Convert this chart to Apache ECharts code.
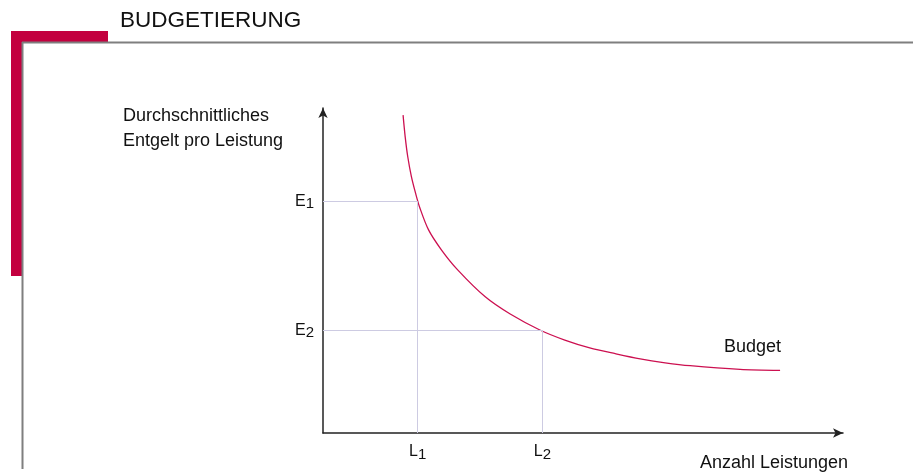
<!DOCTYPE html>
<html>
<head>
<meta charset="utf-8">
<title>Budgetierung</title>
<script src="https://cdn.jsdelivr.net/npm/echarts@6/dist/echarts.min.js"></script>
<style>
  html, body { margin: 0; padding: 0; background: #fff; }
  #chart { width: 913px; height: 473px; }
</style>
</head>
<body>
<div id="chart"></div>
<script>
// curve "Budget": Anzahl Leistungen (x) vs. durchschnittliches Entgelt (y), arbitrary units 0..100
const budgetX = [15.4, 15.8, 16.3, 17.0, 17.8, 18.6, 20.3, 22.8, 25.9, 31.2, 36.0, 41.7, 46.5, 51.3, 56.2, 61.0, 65.8, 70.6, 80.2, 87.9];
const budgetY = [97.8, 91.2, 85.0, 78.9, 73.8, 69.4, 62.5, 56.3, 50.2, 41.9, 36.6, 31.7, 28.6, 26.2, 24.4, 22.8, 21.6, 20.7, 19.6, 19.3];

// marked levels
const xTickValues = [18.2, 42.2];
const xTickNames = ['L', 'L'];
const xTickSubs = ['1', '2'];
const yTickValues = [71.2, 31.6];
const yTickNames = ['E', 'E'];
const ySubs = ['1', '2'];

const seriesName = 'Budget';
const titleText = 'BUDGETIERUNG';
const yAxisTitle = 'Durchschnittliches\nEntgelt pro Leistung';
const xAxisTitle = 'Anzahl Leistungen';

const FONT = "'Liberation Sans', Arial, sans-serif";
const RED = '#c3003f';
const GUIDE = '#cdcbe2';

const chart = echarts.init(document.getElementById('chart'));

const subRich = {
  b: { fontSize: 16, fontFamily: FONT, color: '#111', lineHeight: 20 },
  s: { fontSize: 15, fontFamily: FONT, color: '#111', lineHeight: 15, verticalAlign: 'bottom' }
};

const guideLines = [];
xTickValues.forEach((xv, i) => {
  const yv = yTickValues[i];
  guideLines.push([{ coord: [0, yv] }, { coord: [xv, yv] }]);
  guideLines.push([{ coord: [xv, 0] }, { coord: [xv, yv] }]);
});

const option = {
  animation: false,
  backgroundColor: '#fff',
  grid: { left: 323, top: 108, width: 520, height: 325 },
  xAxis: {
    type: 'value',
    min: 0,
    max: 100,
    splitLine: { show: false },
    axisTick: { show: false },
    axisLine: {
      show: true,
      symbol: ['none', 'arrow'],
      symbolSize: [7, 10],
      lineStyle: { color: '#222', width: 1.5 }
    },
    axisLabel: {
      customValues: xTickValues,
      margin: 9,
      fontSize: 16,
      fontFamily: FONT,
      formatter: (v) => {
        const i = xTickValues.indexOf(v);
        return i < 0 ? '' : '{b|' + xTickNames[i] + '}{s|' + xTickSubs[i] + '}';
      },
      rich: subRich
    }
  },
  yAxis: {
    type: 'value',
    min: 0,
    max: 100,
    splitLine: { show: false },
    axisTick: { show: false },
    axisLine: {
      show: true,
      symbol: ['none', 'arrow'],
      symbolSize: [7, 10],
      lineStyle: { color: '#222', width: 1.5 }
    },
    axisLabel: {
      customValues: yTickValues,
      margin: 9,
      fontSize: 16,
      fontFamily: FONT,
      formatter: (v) => {
        const i = yTickValues.indexOf(v);
        return i < 0 ? '' : '{b|' + yTickNames[i] + '}{s|' + ySubs[i] + '}';
      },
      rich: subRich
    }
  },
  series: [{
    name: seriesName,
    type: 'line',
    data: budgetX.map((x, i) => [x, budgetY[i]]),
    smooth: 0.3,
    showSymbol: false,
    lineStyle: { color: '#cc1050', width: 1.3 },
    endLabel: {
      show: true,
      formatter: seriesName,
      fontSize: 18,
      fontFamily: FONT,
      color: '#111',
      align: 'right',
      offset: [-7, -23]
    },
    markLine: {
      silent: true,
      symbol: 'none',
      label: { show: false },
      lineStyle: { color: GUIDE, width: 1, type: 'solid' },
      data: guideLines
    },
    z: 3
  }],
  graphic: [
    // red corner bar and grey frame
    { type: 'rect', shape: { x: 11, y: 31, width: 97, height: 11 }, style: { fill: RED } },
    { type: 'rect', shape: { x: 11, y: 31, width: 11, height: 245 }, style: { fill: RED } },
    { type: 'line', shape: { x1: 22, y1: 42.5, x2: 913, y2: 42.5 }, style: { stroke: '#7f7f7f', lineWidth: 2 } },
    { type: 'line', shape: { x1: 22.5, y1: 42, x2: 22.5, y2: 469 }, style: { stroke: '#7f7f7f', lineWidth: 2 } },
    {
      type: 'text', left: 120, top: 9,
      style: { text: titleText, font: '22.5px ' + FONT, fill: '#111' }
    },
    {
      type: 'text', left: 123, top: 104,
      style: { text: yAxisTitle, font: '18px ' + FONT, fill: '#111', lineHeight: 25 }
    },
    {
      type: 'text', right: 65, top: 454,
      style: { text: xAxisTitle, font: '18px ' + FONT, fill: '#111' }
    }
  ]
};

chart.setOption(option);
window.addEventListener('resize', () => chart.resize());
</script>
</body>
</html>
